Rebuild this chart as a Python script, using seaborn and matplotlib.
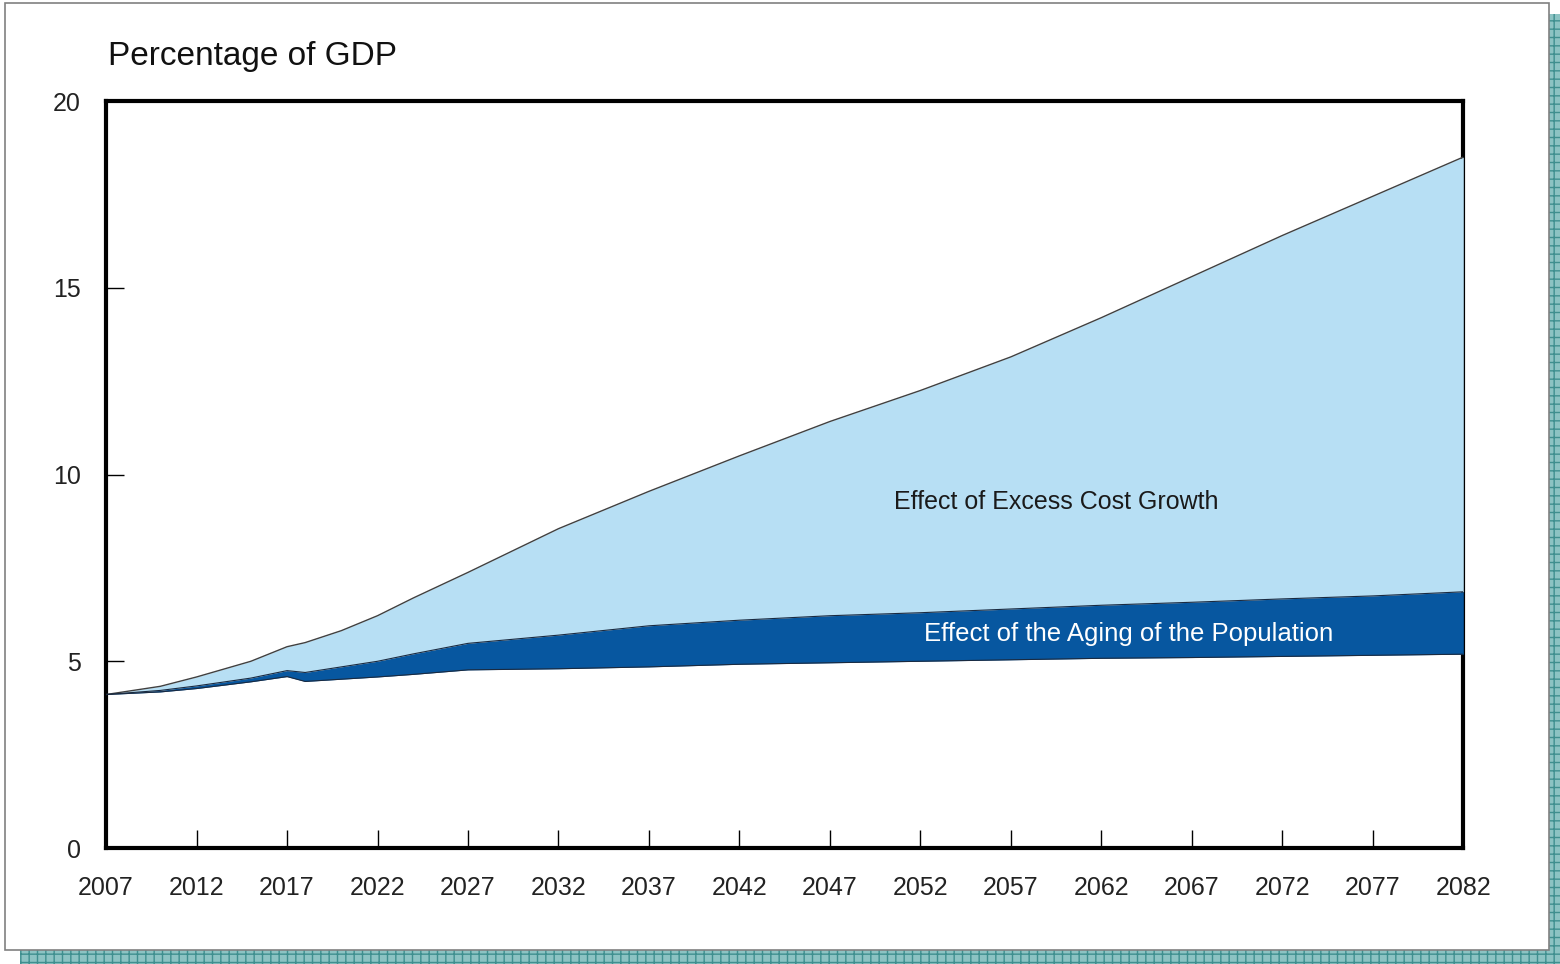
import matplotlib.pyplot as plt
import matplotlib.patches as mpatches
import numpy as np
import pandas as pd
import seaborn as sns

sns.set_theme(style="white")
plt.rcParams["font.family"] = ["Liberation Sans", "DejaVu Sans"]

# Dati (percentuale del PIL)
anni = [2007, 2010, 2012, 2015, 2017, 2018, 2020, 2022, 2024, 2027, 2032,
        2037, 2042, 2047, 2052, 2057, 2062, 2067, 2072, 2077, 2082]
totale = [4.11, 4.33, 4.58, 5.00, 5.39, 5.50, 5.82, 6.22, 6.70, 7.38, 8.55,
          9.55, 10.50, 11.42, 12.25, 13.15, 14.20, 15.30, 16.40, 17.45, 18.50]
invecchiamento = [4.11, 4.22, 4.34, 4.55, 4.75, 4.70, 4.85, 5.00, 5.20, 5.48, 5.70,
                  5.95, 6.10, 6.22, 6.30, 6.40, 6.50, 6.58, 6.67, 6.75, 6.86]
base = [4.11, 4.18, 4.27, 4.45, 4.59, 4.46, 4.52, 4.58, 4.65, 4.77, 4.80,
        4.85, 4.92, 4.96, 5.00, 5.04, 5.08, 5.10, 5.13, 5.16, 5.19]

tick_anni = list(range(2007, 2083, 5))
tick_y = [0, 5, 10, 15, 20]

df = pd.DataFrame({"Anno": anni, "Totale": totale,
                   "Invecchiamento": invecchiamento, "Base": base})

fig = plt.figure(figsize=(15.6, 9.64), dpi=100)

# Cornice e ombra quadrettata (dietro agli assi)
ombra = mpatches.Rectangle((0.013, 0.0), 0.987, 0.985, transform=fig.transFigure,
                           facecolor="#8cc3c3", edgecolor="#3f8f8f", hatch="++",
                           linewidth=0, zorder=-2)
fig.patches.append(ombra)
cornice = mpatches.Rectangle((0.003, 0.015), 0.990, 0.982, transform=fig.transFigure,
                             facecolor="white", edgecolor="#808080", linewidth=1.2, zorder=-1)
fig.patches.append(cornice)

ax = fig.add_axes([0.068, 0.1203, 0.870, 0.7749])
ax.set_zorder(2)
ax.set_facecolor("none")

ax.fill_between(df["Anno"], df["Invecchiamento"], df["Totale"],
                color="#b7dff4", linewidth=0, zorder=3)
ax.fill_between(df["Anno"], df["Base"], df["Invecchiamento"],
                color="#0757a0", linewidth=0, zorder=3)
sns.lineplot(data=df, x="Anno", y="Totale", ax=ax, color="#404040", linewidth=1.0, zorder=4)
sns.lineplot(data=df, x="Anno", y="Invecchiamento", ax=ax, color="#1a2a40", linewidth=0.8, zorder=4)
sns.lineplot(data=df, x="Anno", y="Base", ax=ax, color="#1a2a40", linewidth=0.8, zorder=4)

ax.set_xlim(2007, 2082)
ax.set_ylim(0, 20)
ax.set_xticks(tick_anni)
ax.set_xticklabels([str(a) for a in tick_anni])
ax.set_yticks(tick_y)
ax.set_xlabel("")
ax.set_ylabel("")
ax.tick_params(axis="both", direction="in", length=13, width=1, color="black",
               labelsize=18, labelcolor="#222222", bottom=True, left=True)
ax.tick_params(axis="x", pad=20)
ax.tick_params(axis="y", pad=18)
ax.grid(False)

for lato in ["left", "bottom", "top", "right"]:
    ax.spines[lato].set_visible(True)
    ax.spines[lato].set_color("black")
    ax.spines[lato].set_linewidth(3)

ax.text(2059.5, 9.26, "Effect of Excess Cost Growth", ha="center", va="center",
        fontsize=18, color="#1a1a1a", zorder=5)
ax.text(2063.5, 5.73, "Effect of the Aging of the Population", ha="center", va="center",
        fontsize=18.5, color="white", zorder=5)

fig.text(0.069, 0.941, "Percentage of GDP", ha="left", va="center",
         fontsize=24, color="#111111")

plt.savefig("out.png", dpi=100)
